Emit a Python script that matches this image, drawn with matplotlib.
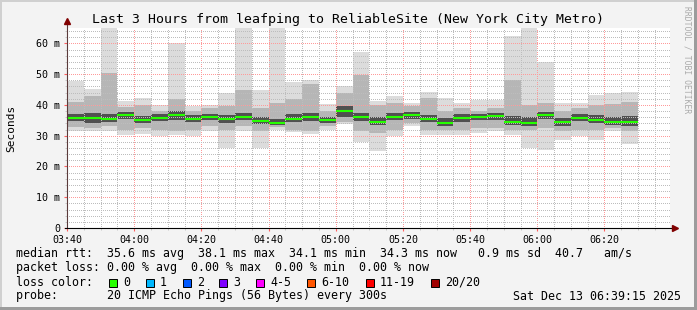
import matplotlib
matplotlib.use("Agg")
import matplotlib.pyplot as plt
from matplotlib.patches import Rectangle
from matplotlib.ticker import MultipleLocator, FixedLocator

plt.rcParams['font.family'] = ['DejaVu Sans Mono']

W, H = 697, 310

# 5 minute smoke bars, start 03:40 (minutes from start)
bar_start = [i * 5 for i in range(34)]

rtt_max = [47.9, 45.2, 66.0, 41.3, 42.3, 40.0, 60.2, 39.8, 40.0, 43.8, 66.0, 44.9,
           66.0, 47.6, 48.1, 40.2, 46.2, 57.3, 41.3, 43.0, 40.6, 44.3, 42.4, 40.6,
           41.6, 41.6, 62.4, 66.0, 54.1, 40.6, 40.6, 43.3, 43.8, 44.1]
rtt_hi = [40.9, 42.9, 50.3, 39.2, 40.0, 37.9, 42.0, 37.9, 38.9, 39.5, 44.9, 38.9,
          40.6, 42.0, 46.7, 38.0, 43.8, 49.7, 40.0, 40.6, 39.5, 42.2, 38.0, 38.9,
          38.0, 38.9, 48.1, 40.0, 40.6, 38.0, 39.0, 40.0, 40.3, 41.1]
core_hi = [37.0, 37.5, 37.0, 37.6, 36.5, 37.0, 38.0, 36.8, 37.2, 36.8, 37.5, 36.0,
           35.5, 37.0, 37.5, 36.2, 39.5, 37.5, 36.0, 37.3, 37.8, 36.8, 35.8, 37.2,
           37.0, 37.5, 36.5, 36.0, 37.8, 35.8, 37.0, 36.8, 36.0, 36.5]
rtt_median = [35.8, 35.8, 35.5, 36.6, 35.0, 35.8, 36.6, 35.5, 36.1, 35.3, 36.1, 34.8,
              34.2, 35.5, 36.2, 35.0, 38.1, 36.2, 34.6, 36.2, 36.6, 35.5, 34.2, 35.8,
              36.0, 36.3, 34.5, 34.1, 36.6, 34.3, 35.9, 35.2, 34.5, 34.3]
core_lo = [34.8, 34.2, 34.5, 35.5, 34.0, 34.8, 35.0, 34.5, 35.0, 34.0, 35.0, 33.8,
           33.5, 34.5, 34.8, 34.0, 36.0, 34.8, 33.5, 35.0, 35.5, 34.5, 33.2, 34.5,
           35.0, 35.2, 33.5, 33.0, 35.5, 33.2, 34.8, 34.0, 33.5, 33.0]
rtt_lo = [32.8, 32.5, 33.0, 32.0, 32.5, 32.0, 31.5, 32.0, 33.0, 32.0, 33.0, 31.5,
          32.8, 32.0, 31.5, 33.0, 34.5, 31.5, 31.0, 32.0, 34.0, 32.0, 31.8, 32.0,
          32.5, 32.5, 32.0, 32.0, 32.5, 31.5, 32.0, 32.0, 32.5, 31.5]
rtt_min = [31.6, 31.6, 31.6, 30.3, 30.7, 30.0, 30.3, 30.0, 31.6, 26.0, 31.6, 26.0,
           31.9, 31.2, 30.5, 31.9, 33.9, 28.1, 25.1, 30.0, 33.0, 30.3, 30.3, 30.3,
           30.8, 31.4, 30.3, 26.0, 25.2, 28.5, 29.8, 28.5, 31.6, 27.4]

x_ticks = [0, 20, 40, 60, 80, 100, 120, 140, 160]
x_labels = ['03:40', '04:00', '04:20', '04:40', '05:00', '05:20', '05:40', '06:00', '06:20']
y_ticks = [0, 10, 20, 30, 40, 50, 60]
y_labels = ['0', '10 m', '20 m', '30 m', '40 m', '50 m', '60 m']

loss_labels = ['0', '1', '2', '3', '4-5', '6-10', '11-19', '20/20']
loss_colors = ['#26ff00', '#00b8ff', '#0059ff', '#7e00ff', '#ff00ff', '#ff5500', '#ff0000', '#a10000']

legend_lines = [
    "median rtt:  35.6 ms avg  38.1 ms max  34.1 ms min  34.3 ms now   0.9 ms sd  40.7   am/s",
    "packet loss: 0.00 % avg  0.00 % max  0.00 % min  0.00 % now",
]
probe_text = "probe:       20 ICMP Echo Pings (56 Bytes) every 300s"
stamp = "Sat Dec 13 06:39:15 2025"
title = "Last 3 Hours from leafping to ReliableSite (New York City Metro)"


def fx(x):
    return x / W


def fy(y):
    return 1 - y / H


fig = plt.figure(figsize=(W / 100, H / 100), dpi=100, facecolor='#f3f3f3')
ax = fig.add_axes([fx(67), 82 / H, 603 / W, 200 / H])
ax.set_facecolor('white')

# smoke: nested bands from outer to inner
bands = [(rtt_min, rtt_max, '#dcdcdc'), (rtt_lo, rtt_hi, '#b6b6b6'), (core_lo, core_hi, '#505050')]
for lo, hi, col in bands:
    ax.bar(bar_start, [h - l for l, h in zip(lo, hi)], bottom=lo, width=5, align='edge',
           color=col, linewidth=0, zorder=1)
ax.hlines(rtt_median, bar_start, [s + 5 for s in bar_start], colors='#26ff00', lw=1.5, zorder=6)

ax.set_xlim(0, 179.5)
ax.set_ylim(0, 65)
for s in ax.spines.values():
    s.set_visible(False)

ax.xaxis.set_major_locator(FixedLocator(x_ticks))
ax.xaxis.set_minor_locator(MultipleLocator(5))
ax.yaxis.set_major_locator(FixedLocator(y_ticks))
ax.yaxis.set_minor_locator(MultipleLocator(2))
ax.set_xticklabels(x_labels, fontsize=7.2)
ax.set_yticklabels(y_labels, fontsize=7.2)
ax.tick_params(which='major', length=2, color='#ff6060', pad=3)
ax.tick_params(which='minor', length=1.5, color='#c0c0c0')

ax.set_axisbelow(False)
ax.xaxis.set_zorder(2.5)
ax.yaxis.set_zorder(2.5)
ax.grid(which='minor', color='#bdbdbd', lw=0.72, ls=(0, (1, 1.4)), antialiased=False)
ax.grid(which='major', color='#ff9a9a', lw=0.72, ls=(0, (1, 1.4)), antialiased=False)

# axes with arrows
ax.plot([0, 0], [0, 1.03], color='#5a3a3a', lw=0.8, transform=ax.transAxes, clip_on=False, zorder=7)
ax.plot([-0.003, 1.005], [0, 0], color='black', lw=0.8, transform=ax.transAxes, clip_on=False, zorder=7)
ax.plot([0], [1.035], marker='^', ms=4, color='#800000', transform=ax.transAxes, clip_on=False, zorder=8)
ax.plot([1.008], [0], marker='>', ms=4, color='#800000', transform=ax.transAxes, clip_on=False, zorder=8)

fig.text(fx(348), fy(19), title, ha='center', va='center', fontsize=9.5)
fig.text(fx(11), fy(128), "Seconds", rotation=90, ha='center', va='center', fontsize=8)
fig.text(fx(687), fy(6), "RRDTOOL / TOBI OETIKER", rotation=-90, ha='center', va='top',
         fontsize=5.8, color='#aaaaaa')

fig.text(fx(16), fy(254), legend_lines[0], ha='left', va='center', fontsize=8.4)
fig.text(fx(16), fy(268), legend_lines[1], ha='left', va='center', fontsize=8.4)
fig.text(fx(16), fy(282), "loss color:", ha='left', va='center', fontsize=8.4)
box_x = [109, 146, 183, 219, 256, 307, 366, 431]
for bx, lab, col in zip(box_x, loss_labels, loss_colors):
    fig.add_artist(Rectangle((fx(bx), fy(286.5)), 8 / W, 8 / H, transform=fig.transFigure,
                             facecolor=col, edgecolor='black', lw=0.7))
    fig.text(fx(bx + 14), fy(282), lab, ha='left', va='center', fontsize=8.4)
fig.text(fx(16), fy(296), probe_text, ha='left', va='center', fontsize=8.4)
fig.text(fx(681), fy(296), stamp, ha='right', va='center', fontsize=8.4)

# image frame
fig.add_artist(Rectangle((0, fy(2)), 1, 2 / H, transform=fig.transFigure, color='#d0d0d0', lw=0))
fig.add_artist(Rectangle((0, 0), 2 / W, 1, transform=fig.transFigure, color='#d0d0d0', lw=0))
fig.add_artist(Rectangle((0, 0), 1, 3 / H, transform=fig.transFigure, color='#9c9c9c', lw=0))
fig.add_artist(Rectangle((fx(694), 0), 3 / W, 1, transform=fig.transFigure, color='#9c9c9c', lw=0))

fig.savefig('out.png', dpi=100, facecolor=fig.get_facecolor())
